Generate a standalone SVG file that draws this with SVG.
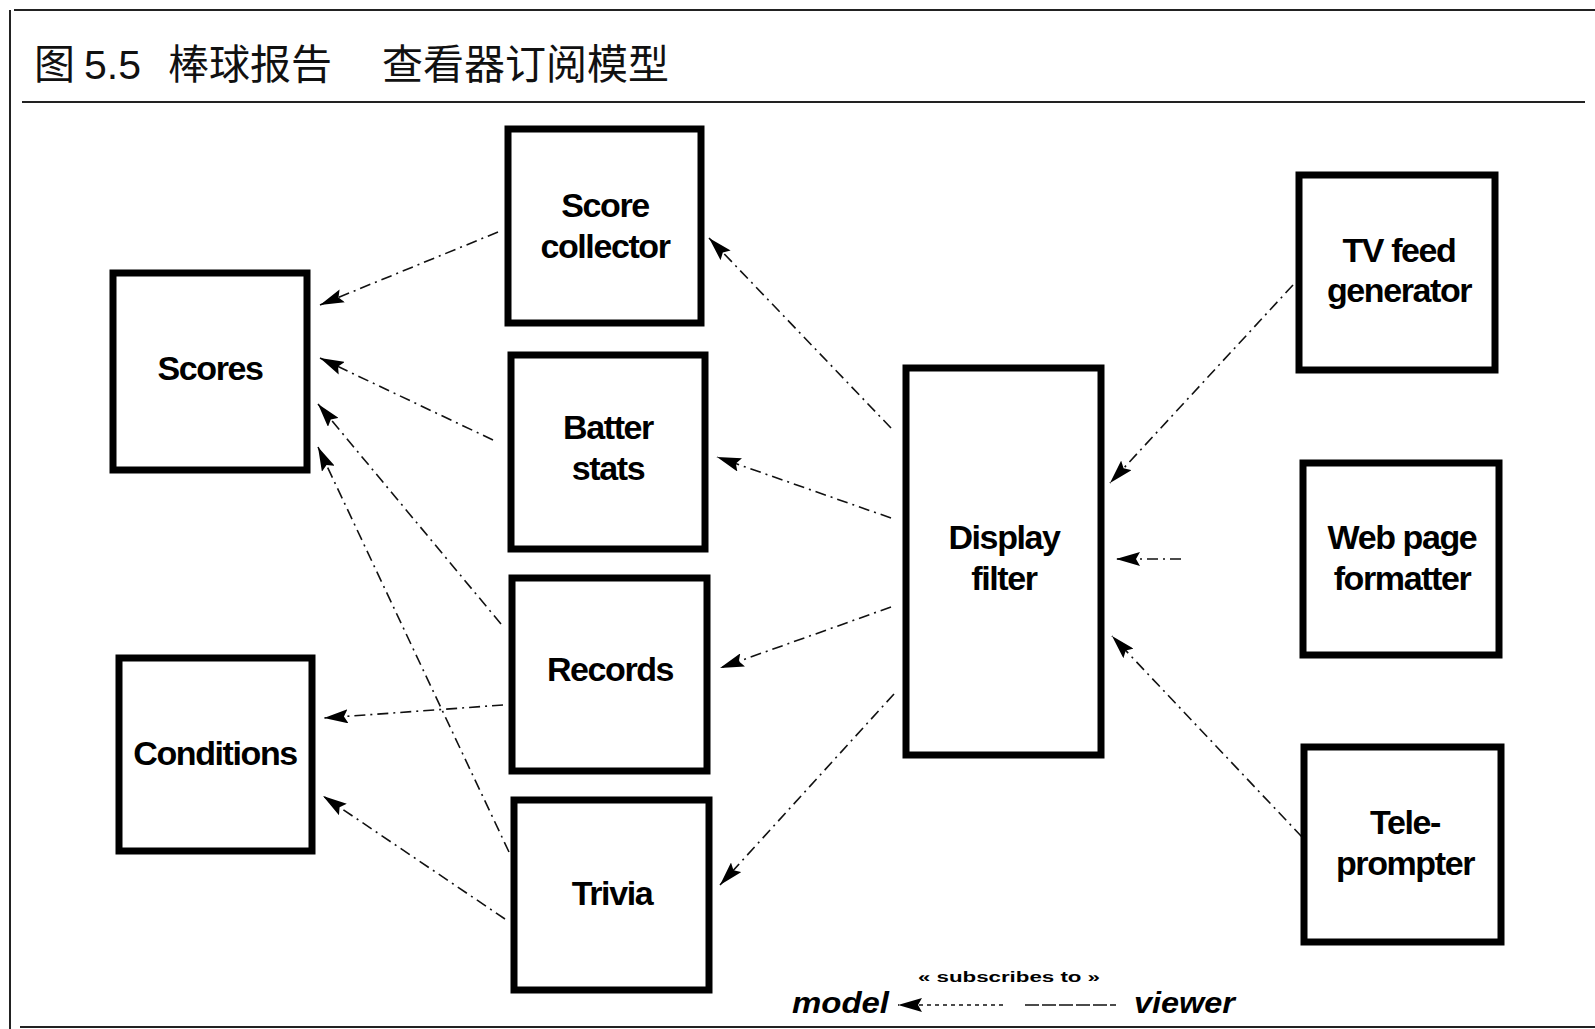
<svg xmlns="http://www.w3.org/2000/svg" width="1595" height="1029" viewBox="0 0 1595 1029">
<style>
.frame{fill:none;stroke:#222;stroke-width:2}
.box rect{fill:#fff;stroke:#000;stroke-width:7}
.box text{font-family:"Liberation Sans",Arial,sans-serif;font-weight:bold;font-size:34px;letter-spacing:-1.4px;text-anchor:middle;fill:#000}
.title{font-family:"Liberation Sans","Noto Sans CJK SC",sans-serif;font-size:41px;fill:#111}
.conn path{fill:none;stroke:#111;stroke-width:1.6;stroke-dasharray:11 5 2 5;marker-end:url(#ah)}
.legend{font-family:"Liberation Sans",Arial,sans-serif;font-weight:bold;font-style:italic;fill:#000}
</style>
<defs>
<marker id="ah" viewBox="0 0 24 14" refX="24" refY="7" markerWidth="24" markerHeight="14" markerUnits="userSpaceOnUse" orient="auto">
<path d="M0,0 L24,7 L0,14 L4,7 z" fill="#000"/>
</marker>
</defs>
<rect width="1595" height="1029" fill="#fff"/>
<g id="frame">
<line class="frame" x1="14" y1="10" x2="1595" y2="10"/>
<line class="frame" x1="10" y1="10" x2="10" y2="1029"/>
<line class="frame" x1="22" y1="102" x2="1585" y2="102"/>
<line class="frame" x1="20" y1="1027" x2="1595" y2="1027" stroke="#888"/>
<text class="title" y="79"><tspan x="34">图</tspan><tspan x="84">5.5</tspan><tspan x="168">棒球报告</tspan><tspan x="382">查看器订阅模型</tspan></text>
</g>
<g id="connectors" class="conn">
<path d="M498,232 L320,305"/>
<path d="M493,440 L320,358"/>
<path d="M501,624 L318,404"/>
<path d="M509,852 L318,447"/>
<path d="M503,705 L324,718"/>
<path d="M505,919 L323,796"/>
<path d="M891,428 L709,238"/>
<path d="M891,518 L717,457"/>
<path d="M891,607 L720,668"/>
<path d="M894,694 L720,885"/>
<path d="M1293,285 L1110,483"/>
<path d="M1181,559 L1116,559"/>
<path d="M1302,837 L1112,636"/>
</g>
<g id="scores" class="box"><rect x="113" y="273" width="194" height="197"/><text x="210" y="380">Scores</text></g>
<g id="conditions" class="box"><rect x="119" y="658" width="193" height="193"/><text x="215" y="765">Conditions</text></g>
<g id="score-collector" class="box"><rect x="508" y="129" width="193" height="194"/><text x="605" y="217">Score</text><text x="605" y="258">collector</text></g>
<g id="batter-stats" class="box"><rect x="511" y="355" width="194" height="194"/><text x="608" y="439">Batter</text><text x="608" y="480">stats</text></g>
<g id="records" class="box"><rect x="512" y="578" width="195" height="193"/><text x="610" y="681">Records</text></g>
<g id="trivia" class="box"><rect x="514" y="800" width="195" height="190"/><text x="612" y="905">Trivia</text></g>
<g id="display-filter" class="box"><rect x="906" y="368" width="195" height="387"/><text x="1004" y="549">Display</text><text x="1004" y="590">filter</text></g>
<g id="tv-feed" class="box"><rect x="1299" y="175" width="196" height="195"/><text x="1399" y="262">TV feed</text><text x="1399" y="302">generator</text></g>
<g id="web-page" class="box"><rect x="1303" y="463" width="196" height="192"/><text x="1402" y="549">Web page</text><text x="1402" y="590">formatter</text></g>
<g id="teleprompter" class="box"><rect x="1304" y="747" width="197" height="195"/><text x="1405" y="834">Tele-</text><text x="1405" y="875">prompter</text></g>
<g id="legend">
<text class="legend" x="792" y="1013" font-size="29" textLength="97" lengthAdjust="spacingAndGlyphs">model</text>
<text class="legend" x="1134" y="1013" font-size="29" textLength="101" lengthAdjust="spacingAndGlyphs">viewer</text>
<text x="918" y="982" font-family="Liberation Sans,Arial,sans-serif" font-weight="bold" font-size="14" textLength="182" lengthAdjust="spacingAndGlyphs">« subscribes to »</text>
<path d="M1003,1005 L898,1005" fill="none" stroke="#111" stroke-width="1.6" stroke-dasharray="4 4" marker-end="url(#ah)"/>
<path d="M1025,1005 L1116,1005" fill="none" stroke="#111" stroke-width="1.6" stroke-dasharray="14 3"/>
</g>
</svg>
